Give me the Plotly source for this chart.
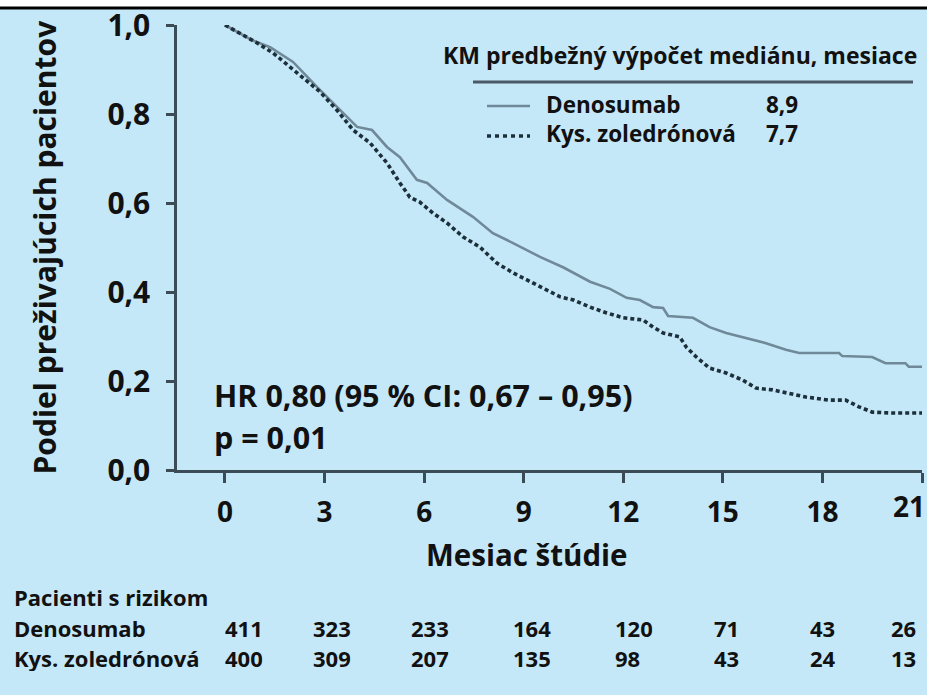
import plotly.graph_objects as go

# ---------------- data ----------------
den_months = [0, 0.81, 1.36, 2.05, 2.77, 3.37, 3.98, 4.43, 4.88, 5.27, 5.78, 6.09, 6.69, 7.47,
              8.07, 8.68, 9.28, 9.49, 10.2, 11.0, 11.6, 12.1, 12.5, 12.9, 13.2, 13.35, 14.1,
              14.6, 15.1, 15.7, 16.3, 16.9, 17.3, 18.5, 18.6, 19.5, 19.9, 20.5, 20.6, 21.0]
den_surv = [1.0, 0.966, 0.95, 0.917, 0.861, 0.816, 0.771, 0.764, 0.726, 0.703, 0.652, 0.645,
            0.607, 0.569, 0.532, 0.51, 0.487, 0.479, 0.455, 0.423, 0.407, 0.387, 0.382, 0.366,
            0.364, 0.346, 0.342, 0.321, 0.308, 0.297, 0.285, 0.27, 0.263, 0.263, 0.256, 0.254,
            0.24, 0.24, 0.232, 0.232]

zol_months = [0, 0.96, 1.45, 1.96, 2.47, 2.86, 3.37, 3.86, 4.37, 4.88, 5.27, 5.57, 5.87, 6.27,
              6.69, 7.17, 7.68, 8.19, 8.68, 9.28, 9.6, 10.1, 10.5, 11.0, 11.5, 12.0, 12.6,
              12.9, 13.2, 13.7, 13.9, 14.2, 14.6, 15.1, 15.6, 16.0, 16.5, 17.0, 17.5, 18.2,
              18.7, 19.1, 19.5, 20.1, 21.0]
zol_surv = [1.0, 0.96, 0.937, 0.906, 0.876, 0.85, 0.809, 0.764, 0.735, 0.69, 0.645, 0.613,
            0.602, 0.577, 0.555, 0.524, 0.501, 0.465, 0.443, 0.42, 0.408, 0.389, 0.382, 0.366,
            0.353, 0.342, 0.337, 0.321, 0.308, 0.299, 0.276, 0.254, 0.229, 0.218, 0.202, 0.184,
            0.18, 0.173, 0.164, 0.157, 0.157, 0.142, 0.13, 0.128, 0.128]

series_names = ["Denosumab", "Kys. zoledrónová"]
medians = ["8,9", "7,7"]

x_ticks = [0, 3, 6, 9, 12, 15, 18, 21]
y_ticks = [0.0, 0.2, 0.4, 0.6, 0.8, 1.0]

risk_months = [0, 3, 6, 9, 12, 15, 18, 21]
risk_den = [411, 323, 233, 164, 120, 71, 43, 26]
risk_zol = [400, 309, 207, 135, 98, 43, 24, 13]

legend_title = "KM predbežný výpočet mediánu, mesiace"
hr_text = "HR 0,80 (95 % CI: 0,67 – 0,95)"
p_text = "p = 0,01"
x_title = "Mesiac štúdie"
y_title = "Podiel preživajúcich pacientov"
risk_title = "Pacienti s rizikom"

# ---------------- style ----------------
BG = "#c5e8f8"
AXIS = "#3b4c57"
DEN_COLOR = "#6f8998"
ZOL_COLOR = "#1c2f3b"
TXT = "#111111"
FONT = "Open Sans"

fig = go.Figure()
fig.add_trace(go.Scatter(x=den_months, y=den_surv, mode="lines", name=series_names[0],
                         line=dict(color=DEN_COLOR, width=2.6), showlegend=False))
fig.add_trace(go.Scatter(x=zol_months, y=zol_surv, mode="lines", name=series_names[1],
                         line=dict(color=ZOL_COLOR, width=3.6, dash="4px,3px"), showlegend=False))

W, H = 927, 695
L, R, T, B = 177, 5, 25, 225

fig.update_layout(
    width=W, height=H,
    margin=dict(l=L, r=R, t=T, b=B, pad=0, autoexpand=False),
    paper_bgcolor=BG, plot_bgcolor=BG,
    separators=", ",
    font=dict(family=FONT, color=TXT),
    showlegend=False,
)
last_tick = x_ticks[-1]
fig.update_xaxes(
    range=[-1.446, 21], tickvals=x_ticks,
    ticktext=[str(v) if v != last_tick else "" for v in x_ticks],
    showline=True, linecolor=AXIS, linewidth=2.5, showgrid=False, zeroline=False,
    ticks="outside", ticklen=10, tickwidth=2.5, tickcolor=AXIS,
    tickfont=dict(family=FONT, size=28, color=TXT, weight="bold"),
    ticklabelstandoff=6, automargin=False, ticklabeloverflow="allow",
)
fig.update_yaxes(
    range=[0, 1], tickvals=y_ticks, tickformat=".1f",
    showline=True, linecolor=AXIS, linewidth=2.5, showgrid=False, zeroline=False,
    ticks="outside", ticklen=8, tickwidth=2.5, tickcolor=AXIS,
    tickfont=dict(family=FONT, size=30, color=TXT, weight="bold"),
    ticklabelstandoff=10, automargin=False, ticklabeloverflow="allow",
)

def px(xp):
    return (xp - L) / (W - L - R)

def py(yp):
    return (H - B - yp) / (H - T - B)

ann = []
bold = dict(family=FONT, color=TXT, weight="bold")

# last x tick label, kept inside the page edge as in the original
ann.append(dict(text=str(last_tick), x=last_tick, y=py(506), xref="x", yref="paper", xshift=5,
                showarrow=False, xanchor="right", yanchor="middle",
                font=dict(bold, size=28)))

# axis titles
ann.append(dict(text=y_title, x=px(44), y=0.5, xref="paper", yref="paper", textangle=-90,
                showarrow=False, xanchor="center", yanchor="middle", font=dict(bold, size=30)))
ann.append(dict(text=x_title, x=px(527), y=py(554), xref="paper", yref="paper",
                showarrow=False, xanchor="center", yanchor="middle", font=dict(bold, size=29.5)))

# legend block
ann.append(dict(text=legend_title, x=px(441), y=py(55), xref="paper", yref="paper",
                showarrow=False, xanchor="left", yanchor="middle", font=dict(bold, size=23)))
ann.append(dict(text="<br>".join(series_names), x=px(544), y=py(119), xref="paper", yref="paper",
                showarrow=False, xanchor="left", yanchor="middle", align="left",
                font=dict(bold, size=22.5)))
ann.append(dict(text="<br>".join(medians), x=px(764), y=py(119), xref="paper", yref="paper",
                showarrow=False, xanchor="left", yanchor="middle", align="left",
                font=dict(bold, size=22.5)))

# HR / p text
ann.append(dict(text=hr_text, x=px(212), y=py(395), xref="paper", yref="paper",
                showarrow=False, xanchor="left", yanchor="middle", font=dict(bold, size=30.5)))
ann.append(dict(text=p_text, x=px(212), y=py(437), xref="paper", yref="paper",
                showarrow=False, xanchor="left", yanchor="middle", font=dict(bold, size=30.5)))

# risk table
tfont = dict(family=FONT, color=TXT, size=22, weight="bold")
row_y = [597, 628, 658]
ann.append(dict(text=risk_title, x=px(12), y=py(row_y[0]), xref="paper", yref="paper", height=26,
                showarrow=False, xanchor="left", yanchor="middle", font=tfont))
col_shift = [-2, -14, -15, -13, -10, -11, -14, -33]
for r, (nm, vals) in enumerate(zip(series_names, [risk_den, risk_zol])):
    yy = row_y[r + 1]
    ann.append(dict(text=nm, x=px(12), y=py(yy), xref="paper", yref="paper", height=26,
                    showarrow=False, xanchor="left", yanchor="middle", font=tfont))
    for m, v, s in zip(risk_months, vals, col_shift):
        ann.append(dict(text=str(v), x=m, y=py(yy), xref="x", yref="paper", xshift=s, height=26,
                        showarrow=False, xanchor="left", yanchor="middle", font=tfont))

fig.update_layout(annotations=ann)

shapes = []
# top white strip and black rule
shapes.append(dict(type="rect", xref="paper", yref="paper", x0=px(0), x1=px(W), y0=py(0), y1=py(8),
                   fillcolor="white", line=dict(width=0), layer="above"))
shapes.append(dict(type="line", xref="paper", yref="paper", x0=px(0), x1=px(W), y0=py(8), y1=py(8),
                   line=dict(color="black", width=3), layer="above"))
# legend rule
shapes.append(dict(type="line", xref="paper", yref="paper", x0=px(473), x1=px(913), y0=py(82), y1=py(82),
                   line=dict(color="#4a5a66", width=3)))
# legend samples
shapes.append(dict(type="line", xref="paper", yref="paper", x0=px(487), x1=px(530), y0=py(106), y1=py(106),
                   line=dict(color=DEN_COLOR, width=2.6)))
shapes.append(dict(type="line", xref="paper", yref="paper", x0=px(487), x1=px(530), y0=py(136), y1=py(136),
                   line=dict(color=ZOL_COLOR, width=3.6, dash="4px,4px")))
fig.update_layout(shapes=shapes)

fig.write_html("out.html", config={"displayModeBar": False},
               post_script="document.body.style.margin='0';document.body.style.overflow='hidden';")
